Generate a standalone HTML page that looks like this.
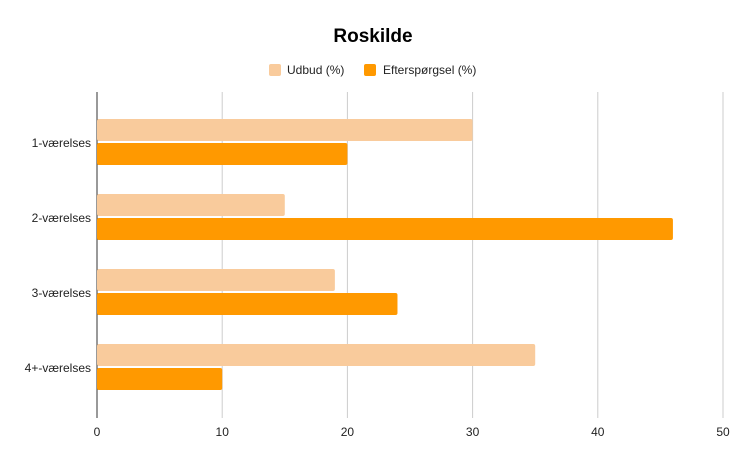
<!DOCTYPE html>
<html><head><meta charset="utf-8"><style>
body{margin:0;background:#fff;font-family:"Liberation Sans",Arial,sans-serif}
</style></head><body>
<svg id="c" width="747" height="462" xmlns="http://www.w3.org/2000/svg" font-family="Liberation Sans, Arial, sans-serif">
<rect width="747" height="462" fill="#fff"/>
<text x="373" y="42" text-anchor="middle" font-size="19" font-weight="bold" fill="#000">Roskilde</text>
<g>
<rect x="269" y="64" width="12" height="12" rx="2" fill="#f9cb9c"/>
<text x="287" y="74" font-size="12" fill="#222">Udbud (%)</text>
<rect x="364" y="64" width="12" height="12" rx="2" fill="#ff9900"/>
<text x="383" y="74" font-size="12" fill="#222">Efterspørgsel (%)</text>
</g>
<g id="grid"></g><g id="bars"></g><g id="labels"></g>
</svg>
<script>
const categories=["1-værelses","2-værelses","3-værelses","4+-værelses"];
const udbud=[30,15,19,35];
const efterspoergsel=[20,46,24,10];
const ticks=[0,10,20,30,40,50];
const NS="http://www.w3.org/2000/svg";
const x0=97,x1=723,xmax=50,plotTop=92,plotBottom=418,catTop=104.5,band=75;
const xs=v=>x0+v/xmax*(x1-x0);
function el(t,a,p){const e=document.createElementNS(NS,t);for(const k in a)e.setAttribute(k,a[k]);document.getElementById(p).appendChild(e);return e;}
ticks.forEach(t=>{
 const g=el("line",{x1:xs(t),x2:xs(t),y1:plotTop,y2:plotBottom,stroke:t===0?"#333":"#ccc","stroke-width":1},"grid");
 
 
 const l=el("text",{x:xs(t),y:436,"text-anchor":"middle","font-size":12,fill:"#222"},"labels");
 l.textContent=t;
 
 
});
categories.forEach((c,i)=>{
 const cy=catTop+band*(i+0.5);
 const b1=el("rect",{x:x0,y:cy-23,width:xs(udbud[i])-x0,height:22,fill:"#f9cb9c",rx:2},"bars");
 
 
 const b2=el("rect",{x:x0,y:cy+1,width:xs(efterspoergsel[i])-x0,height:22,fill:"#ff9900",rx:2},"bars");
 
 
 const l=el("text",{x:91,y:cy+5,"text-anchor":"end","font-size":12,fill:"#222"},"labels");
 l.textContent=c;
 
 
});
</script>
</body></html>
